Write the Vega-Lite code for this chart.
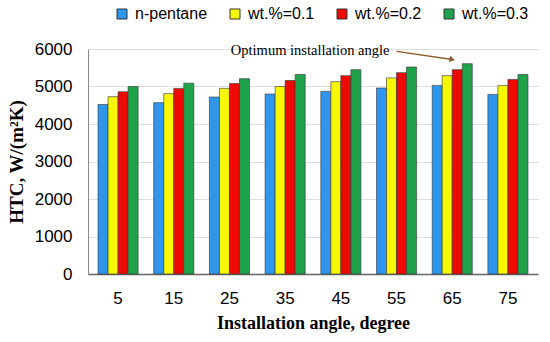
{
  "$schema": "https://vega.github.io/schema/vega-lite/v6.json",
  "width": 450,
  "height": 225,
  "autosize": {"type": "none"},
  "padding": {"left": 88, "top": 49, "right": 12, "bottom": 68},
  "background": "white",
  "config": {
    "view": {"stroke": null},
    "font": "Liberation Sans"
  },
  "data": {
    "values": [
      {"angle": "5", "series": "n-pentane", "htc": 4520},
      {"angle": "5", "series": "wt.%=0.1", "htc": 4730},
      {"angle": "5", "series": "wt.%=0.2", "htc": 4860},
      {"angle": "5", "series": "wt.%=0.3", "htc": 5000},
      {"angle": "15", "series": "n-pentane", "htc": 4570},
      {"angle": "15", "series": "wt.%=0.1", "htc": 4810},
      {"angle": "15", "series": "wt.%=0.2", "htc": 4950},
      {"angle": "15", "series": "wt.%=0.3", "htc": 5090},
      {"angle": "25", "series": "n-pentane", "htc": 4720},
      {"angle": "25", "series": "wt.%=0.1", "htc": 4950},
      {"angle": "25", "series": "wt.%=0.2", "htc": 5080},
      {"angle": "25", "series": "wt.%=0.3", "htc": 5210},
      {"angle": "35", "series": "n-pentane", "htc": 4800},
      {"angle": "35", "series": "wt.%=0.1", "htc": 5000},
      {"angle": "35", "series": "wt.%=0.2", "htc": 5160},
      {"angle": "35", "series": "wt.%=0.3", "htc": 5320},
      {"angle": "45", "series": "n-pentane", "htc": 4870},
      {"angle": "45", "series": "wt.%=0.1", "htc": 5130},
      {"angle": "45", "series": "wt.%=0.2", "htc": 5290},
      {"angle": "45", "series": "wt.%=0.3", "htc": 5450},
      {"angle": "55", "series": "n-pentane", "htc": 4960},
      {"angle": "55", "series": "wt.%=0.1", "htc": 5230},
      {"angle": "55", "series": "wt.%=0.2", "htc": 5370},
      {"angle": "55", "series": "wt.%=0.3", "htc": 5520},
      {"angle": "65", "series": "n-pentane", "htc": 5030},
      {"angle": "65", "series": "wt.%=0.1", "htc": 5290},
      {"angle": "65", "series": "wt.%=0.2", "htc": 5450},
      {"angle": "65", "series": "wt.%=0.3", "htc": 5610},
      {"angle": "75", "series": "n-pentane", "htc": 4790},
      {"angle": "75", "series": "wt.%=0.1", "htc": 5030},
      {"angle": "75", "series": "wt.%=0.2", "htc": 5190},
      {"angle": "75", "series": "wt.%=0.3", "htc": 5320}
    ]
  },
  "encoding": {
    "x": {
      "field": "angle",
      "type": "nominal",
      "sort": ["5", "15", "25", "35", "45", "55", "65", "75"],
      "scale": {"paddingInner": 0.28, "paddingOuter": 0.18},
      "axis": {
        "title": "Installation angle, degree",
        "titleFont": "Liberation Serif",
        "titleFontSize": 18,
        "titleFontWeight": "bold",
        "titleColor": "black",
        "titlePadding": 8,
        "labelAngle": 0,
        "labelFontSize": 17,
        "labelColor": "black",
        "labelPadding": 16,
        "ticks": false,
        "domainColor": "#666666",
        "domainWidth": 1.5
      }
    },
    "y": {
      "field": "htc",
      "type": "quantitative",
      "scale": {"domain": [0, 6000]},
      "axis": {
        "title": "HTC, W/(m²K)",
        "titleFont": "Liberation Serif",
        "titleFontSize": 19,
        "titleFontWeight": "bold",
        "titleColor": "black",
        "titlePadding": 8,
        "values": [0, 1000, 2000, 3000, 4000, 5000, 6000],
        "format": "d",
        "labelOverlap": false,
        "labelFontSize": 17,
        "labelColor": "black",
        "labelPadding": 16,
        "ticks": false,
        "domainColor": "#888888",
        "gridColor": "#dddddd",
        "gridWidth": 1
      }
    }
  },
  "layer": [
    {
      "mark": {"type": "bar", "stroke": "#333333", "strokeWidth": 0.6},
      "encoding": {
        "xOffset": {
          "field": "series",
          "type": "nominal",
          "sort": ["n-pentane", "wt.%=0.1", "wt.%=0.2", "wt.%=0.3"],
          "scale": {"paddingInner": 0, "paddingOuter": 0}
        },
        "color": {
          "field": "series",
          "type": "nominal",
          "sort": ["n-pentane", "wt.%=0.1", "wt.%=0.2", "wt.%=0.3"],
          "scale": {
            "domain": ["n-pentane", "wt.%=0.1", "wt.%=0.2", "wt.%=0.3"],
            "range": ["#2f96ee", "#f7f700", "#ee0a00", "#1fa34a"]
          },
          "legend": {
            "title": null,
            "orient": "none",
            "direction": "horizontal",
            "legendX": 26,
            "legendY": -43,
            "symbolType": "square",
            "symbolSize": 100,
            "symbolStrokeColor": "#333333",
            "symbolStrokeWidth": 1,
            "labelFontSize": 16,
            "labelColor": "black",
            "labelOffset": 5,
            "columnPadding": 19
          }
        }
      }
    },
    {
      "data": {"values": [{"angle": "35", "htc": 5935, "label": "Optimum installation angle"}]},
      "mark": {
        "type": "text",
        "font": "Liberation Serif",
        "fontSize": 14.5,
        "color": "black",
        "align": "center",
        "baseline": "middle",
        "dx": 25
      },
      "encoding": {
        "text": {"field": "label", "type": "nominal"}
      }
    },
    {
      "data": {"values": [{"angle": "55", "angle2": "65", "htc": 5935, "htc2": 5720}]},
      "mark": {"type": "rule", "color": "#8b5a2b", "strokeWidth": 1.3},
      "encoding": {
        "x2": {"field": "angle2"},
        "y2": {"field": "htc2"}
      }
    },
    {
      "data": {"values": [{"angle": "65", "htc": 5720}]},
      "mark": {
        "type": "point",
        "shape": "triangle-right",
        "filled": true,
        "color": "#8b5a2b",
        "size": 40,
        "angle": 11,
        "opacity": 1
      },
      "encoding": {}
    }
  ]
}
